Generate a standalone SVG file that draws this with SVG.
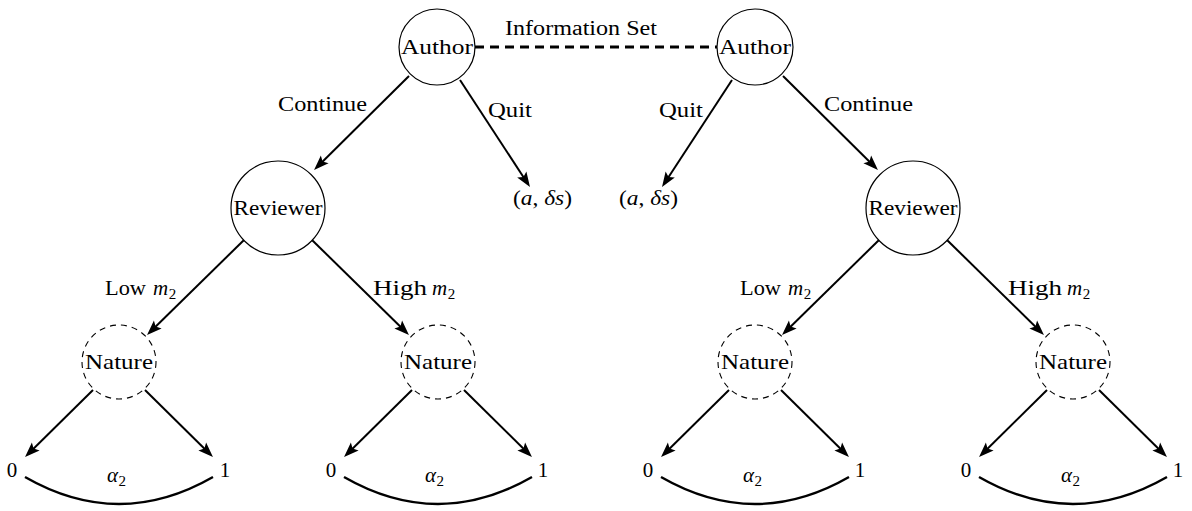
<svg xmlns="http://www.w3.org/2000/svg" width="1192" height="511" viewBox="0 0 1192 511">
  <style>
    text { font-family: "Liberation Serif", "Times New Roman", serif; font-size: 21px; fill: #000; }
    .mid { text-anchor: middle; }
    .it { font-style: italic; }
    .sub { font-size: 15px; font-style: normal; }
    .node { fill: #fff; stroke: #000; stroke-width: 1.2; }
    .chance { fill: none; stroke: #000; stroke-width: 1.1; stroke-dasharray: 6 5; }
    .edge { fill: none; stroke: #000; stroke-width: 2; marker-end: url(#head); }
    .arc { fill: none; stroke: #000; stroke-width: 2.4; }
    .infoset { fill: none; stroke: #000; stroke-width: 3; stroke-dasharray: 9 6; }
  </style>
  <defs>
    <marker id="head" markerUnits="userSpaceOnUse" markerWidth="16" markerHeight="12" refX="11" refY="5.5" orient="auto" overflow="visible">
      <path d="M0,0 L15,5.5 L0,11 L3,5.5 Z" fill="#000"/>
    </marker>
  </defs>

  <!-- information set joining the two author decisions -->
  <g id="information-set">
    <line class="infoset" x1="475" y1="47" x2="717" y2="47"/>
    <text class="mid" x="581" y="35" textLength="152" lengthAdjust="spacingAndGlyphs" style="font-size:20px">Information Set</text>
  </g>

  <!-- connectors -->
  <g id="connectors">
    <!-- author moves -->
    <line class="edge" x1="409" y1="76" x2="316.9" y2="167.2"/>
    <line class="edge" x1="460" y1="80" x2="527.8" y2="183.7"/>
    <line class="edge" x1="732" y1="80" x2="664.2" y2="183.7"/>
    <line class="edge" x1="783" y1="76" x2="875.1" y2="167.2"/>
    <!-- reviewer moves -->
    <line class="edge" x1="244" y1="240" x2="149.9" y2="332.2"/>
    <line class="edge" x1="312" y1="240" x2="406.1" y2="332.2"/>
    <line class="edge" x1="879" y1="240" x2="784.9" y2="332.2"/>
    <line class="edge" x1="947" y1="240" x2="1041.1" y2="332.2"/>
    <!-- nature moves -->
    <line class="edge" x1="93" y1="390" x2="27.9" y2="454.2"/>
    <line class="edge" x1="145" y1="390" x2="210.1" y2="454.2"/>
    <line class="edge" x1="412" y1="390" x2="346.9" y2="454.2"/>
    <line class="edge" x1="464" y1="390" x2="529.1" y2="454.2"/>
    <line class="edge" x1="729" y1="390" x2="663.9" y2="454.2"/>
    <line class="edge" x1="781" y1="390" x2="846.1" y2="454.2"/>
    <line class="edge" x1="1047" y1="390" x2="981.9" y2="454.2"/>
    <line class="edge" x1="1099" y1="390" x2="1164.1" y2="454.2"/>
    <!-- probability arcs -->
    <path class="arc" d="M25,477 Q119,531 213,477"/>
    <path class="arc" d="M344,477 Q438,531 532,477"/>
    <path class="arc" d="M661,477 Q755,531 849,477"/>
    <path class="arc" d="M979,477 Q1073,531 1167,477"/>
  </g>

  <!-- edge labels -->
  <g id="edge-labels">
    <text class="mid" x="322.5" y="111" textLength="89" lengthAdjust="spacingAndGlyphs">Continue</text>
    <text class="mid" x="510" y="117" textLength="44" lengthAdjust="spacingAndGlyphs">Quit</text>
    <text class="mid" x="681" y="117" textLength="44" lengthAdjust="spacingAndGlyphs">Quit</text>
    <text class="mid" x="868.5" y="111" textLength="89" lengthAdjust="spacingAndGlyphs">Continue</text>

    <text x="105" y="295" textLength="41" lengthAdjust="spacingAndGlyphs">Low</text>
    <text x="153" y="295"><tspan class="it">m</tspan><tspan class="sub" dx="0.5" dy="4">2</tspan></text>
    <text x="373" y="295" textLength="54" lengthAdjust="spacingAndGlyphs">High</text>
    <text x="432" y="295"><tspan class="it">m</tspan><tspan class="sub" dx="0.5" dy="4">2</tspan></text>

    <text x="740" y="295" textLength="41" lengthAdjust="spacingAndGlyphs">Low</text>
    <text x="788" y="295"><tspan class="it">m</tspan><tspan class="sub" dx="0.5" dy="4">2</tspan></text>
    <text x="1008" y="295" textLength="54" lengthAdjust="spacingAndGlyphs">High</text>
    <text x="1067" y="295"><tspan class="it">m</tspan><tspan class="sub" dx="0.5" dy="4">2</tspan></text>

    <text x="107" y="482"><tspan class="it">α</tspan><tspan class="sub" dx="0.5" dy="4">2</tspan></text>
    <text x="425" y="482"><tspan class="it">α</tspan><tspan class="sub" dx="0.5" dy="4">2</tspan></text>
    <text x="743" y="482"><tspan class="it">α</tspan><tspan class="sub" dx="0.5" dy="4">2</tspan></text>
    <text x="1061" y="482"><tspan class="it">α</tspan><tspan class="sub" dx="0.5" dy="4">2</tspan></text>
  </g>

  <!-- decision nodes -->
  <g id="author-left">
    <circle class="node" cx="437" cy="47" r="38"/>
    <text class="mid" x="437" y="54" textLength="72" lengthAdjust="spacingAndGlyphs">Author</text>
  </g>
  <g id="author-right">
    <circle class="node" cx="755" cy="47" r="38"/>
    <text class="mid" x="755" y="54" textLength="72" lengthAdjust="spacingAndGlyphs">Author</text>
  </g>
  <g id="reviewer-left">
    <circle class="node" cx="278" cy="208" r="47"/>
    <text class="mid" x="278" y="215" textLength="89" lengthAdjust="spacingAndGlyphs">Reviewer</text>
  </g>
  <g id="reviewer-right">
    <circle class="node" cx="913" cy="208" r="47"/>
    <text class="mid" x="913" y="215" textLength="89" lengthAdjust="spacingAndGlyphs">Reviewer</text>
  </g>

  <!-- quit payoffs -->
  <g id="payoff-quit-left">
    <text x="513" y="205" textLength="59" lengthAdjust="spacingAndGlyphs">(<tspan class="it">a</tspan>, <tspan class="it">δs</tspan>)</text>
  </g>
  <g id="payoff-quit-right">
    <text x="619" y="205" textLength="59" lengthAdjust="spacingAndGlyphs">(<tspan class="it">a</tspan>, <tspan class="it">δs</tspan>)</text>
  </g>

  <!-- chance nodes -->
  <g id="nature-1">
    <circle class="chance" cx="119" cy="362" r="37"/>
    <text class="mid" x="119" y="369" textLength="68" lengthAdjust="spacingAndGlyphs">Nature</text>
  </g>
  <g id="nature-2">
    <circle class="chance" cx="438" cy="362" r="37"/>
    <text class="mid" x="438" y="369" textLength="68" lengthAdjust="spacingAndGlyphs">Nature</text>
  </g>
  <g id="nature-3">
    <circle class="chance" cx="755" cy="362" r="37"/>
    <text class="mid" x="755" y="369" textLength="68" lengthAdjust="spacingAndGlyphs">Nature</text>
  </g>
  <g id="nature-4">
    <circle class="chance" cx="1073" cy="362" r="37"/>
    <text class="mid" x="1073" y="369" textLength="68" lengthAdjust="spacingAndGlyphs">Nature</text>
  </g>

  <!-- outcomes -->
  <g id="outcome-1-0"><text class="mid" x="12" y="477">0</text></g>
  <g id="outcome-1-1"><text class="mid" x="225" y="477">1</text></g>
  <g id="outcome-2-0"><text class="mid" x="331" y="477">0</text></g>
  <g id="outcome-2-1"><text class="mid" x="543" y="477">1</text></g>
  <g id="outcome-3-0"><text class="mid" x="648" y="477">0</text></g>
  <g id="outcome-3-1"><text class="mid" x="860" y="477">1</text></g>
  <g id="outcome-4-0"><text class="mid" x="966" y="477">0</text></g>
  <g id="outcome-4-1"><text class="mid" x="1178" y="477">1</text></g>
</svg>
